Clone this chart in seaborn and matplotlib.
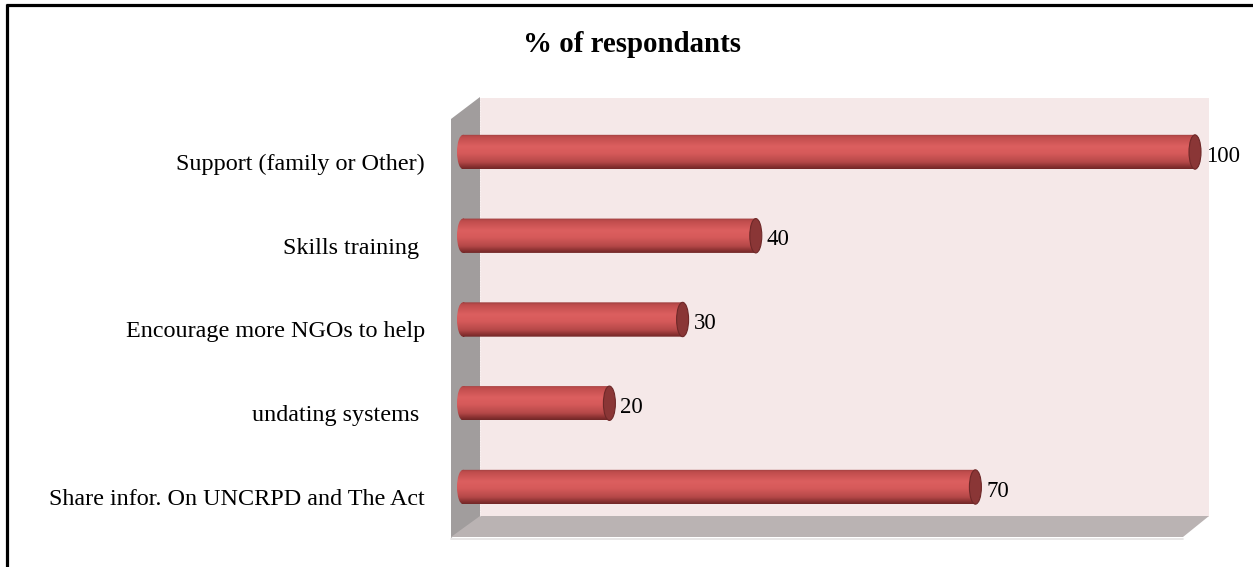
import numpy as np
import pandas as pd
import matplotlib
matplotlib.use("Agg")
import matplotlib.pyplot as plt
import seaborn as sns
from matplotlib.patches import Polygon, Ellipse, Rectangle, PathPatch
from matplotlib.path import Path
from matplotlib.lines import Line2D
from matplotlib.colors import LinearSegmentedColormap
from matplotlib.transforms import ScaledTranslation

# ---- data ----
categories = [
    "Support (family or Other)",
    "Skills training ",
    "Encourage more NGOs to help",
    "undating systems ",
    "Share infor. On UNCRPD and The Act",
]
percent = [100, 40, 30, 20, 70]
title = "% of respondants"

df = pd.DataFrame({"category": categories, "percent": percent})

sns.set_theme(style="white")
plt.rcParams["font.family"] = ["Liberation Serif", "DejaVu Serif"]

W, H, DPI = 1253, 567, 100
fig = plt.figure(figsize=(W / DPI, H / DPI), dpi=DPI)

# background layer in pixel coordinates: frame, 3-D walls and floor
bg = fig.add_axes([0, 0, 1, 1], zorder=0)
bg.set_xlim(0, W)
bg.set_ylim(H, 0)
bg.axis("off")

bg.add_patch(Polygon([(480, 98), (1209, 98), (1209, 517), (480, 517)],
                     closed=True, facecolor="#f5e8e8", edgecolor="none"))
bg.add_patch(Polygon([(451, 119), (480, 97), (480, 517), (451, 538)],
                     closed=True, facecolor="#a19d9d", edgecolor="none"))
bg.add_patch(Polygon([(480, 516), (1209, 516), (1183, 537), (451, 537)],
                     closed=True, facecolor="#bab3b3", edgecolor="none"))
bg.add_line(Line2D([451, 1183], [538.5, 538.5], color="#e4e2e2", lw=1.2))
bg.add_line(Line2D([480, 480], [98, 516], color="#ffffff", lw=0.6, ls=(0, (1, 2)), alpha=0.7))

# outer frame (top and left edges)
bg.add_line(Line2D([6, W], [5, 5], color="black", lw=2.3, solid_capstyle="butt"))
bg.add_line(Line2D([7, 7], [4, H], color="black", lw=2.3, solid_capstyle="butt"))

bg.text(632, 44, title, ha="center", va="center", fontsize=20.8, fontweight="bold",
        color="black")

# main plotting axes
ax = fig.add_axes([440 / W, 1 - 545 / H, (1230 - 440) / W, (545 - 90) / H], zorder=1)
ax.patch.set_alpha(0)

bar_w = 0.41
sns.barplot(data=df, x="percent", y="category", orient="h", width=bar_w,
            color="#d35555", ax=ax, saturation=1)

# x scale: 0 -> pixel 463, 100 -> pixel 1195 within a 790px wide axes
px_per_unit = (1195 - 463) / 100.0
xlo = (440 - 463) / px_per_unit
xhi = (1230 - 463) / px_per_unit
ylo = (545 - 152) / 83.75
yhi = (90 - 152) / 83.75

cap_w = 12 / px_per_unit  # ellipse width of cylinder ends (data units)

# vertical shading of the cylinder body
stops = [
    (0.00, "#9c3e3e"),
    (0.08, "#bf4c4c"),
    (0.35, "#dc5f5f"),
    (0.55, "#d65a5a"),
    (0.80, "#b54848"),
    (0.94, "#842f2f"),
    (1.00, "#702626"),
]
cyl_cmap = LinearSegmentedColormap.from_list("cyl", stops)
grad = np.linspace(0, 1, 256).reshape(-1, 1)

for patch, val in zip(list(ax.patches), percent):
    x0 = patch.get_x()
    y0 = patch.get_y()
    w = patch.get_width()
    h = patch.get_height()
    patch.set_visible(False)

    body = Rectangle((x0, y0), w, h)
    left_end = Ellipse((x0, y0 + h / 2), cap_w, h)
    body_path = body.get_patch_transform().transform_path(body.get_path())
    end_path = left_end.get_patch_transform().transform_path(left_end.get_path())
    clip = PathPatch(Path.make_compound_path(body_path, end_path),
                     transform=ax.transData, facecolor="none", edgecolor="none")
    ax.add_patch(clip)
    im = ax.imshow(grad, cmap=cyl_cmap, aspect="auto", origin="upper",
                   extent=(x0 - cap_w / 2, x0 + w, y0 + h, y0),
                   interpolation="bilinear", zorder=2)
    im.set_clip_path(clip)

    # right end cap
    ax.add_patch(Ellipse((x0 + w, y0 + h / 2), cap_w, h, facecolor="#8a3636",
                         edgecolor="#6e2828", lw=0.8, zorder=3))

    ax.annotate(f"{val:g}", xy=(x0 + w + cap_w / 2, y0 + h / 2),
                xytext=(3.5, -3), textcoords="offset points",
                ha="left", va="center", fontsize=16.5, color="black", zorder=4)

ax.set_xlim(xlo, xhi)
ax.set_ylim(ylo, yhi)
ax.set_xlabel("")
ax.set_ylabel("")
ax.set_xticks([])
for s in ax.spines.values():
    s.set_visible(False)
ax.tick_params(axis="y", length=0, pad=10.8, labelsize=17.4, labelcolor="black")
offset = ScaledTranslation(0, -10 / DPI, fig.dpi_scale_trans)
for lab in ax.get_yticklabels():
    lab.set_transform(lab.get_transform() + offset)

fig.savefig("out.png", dpi=DPI)
